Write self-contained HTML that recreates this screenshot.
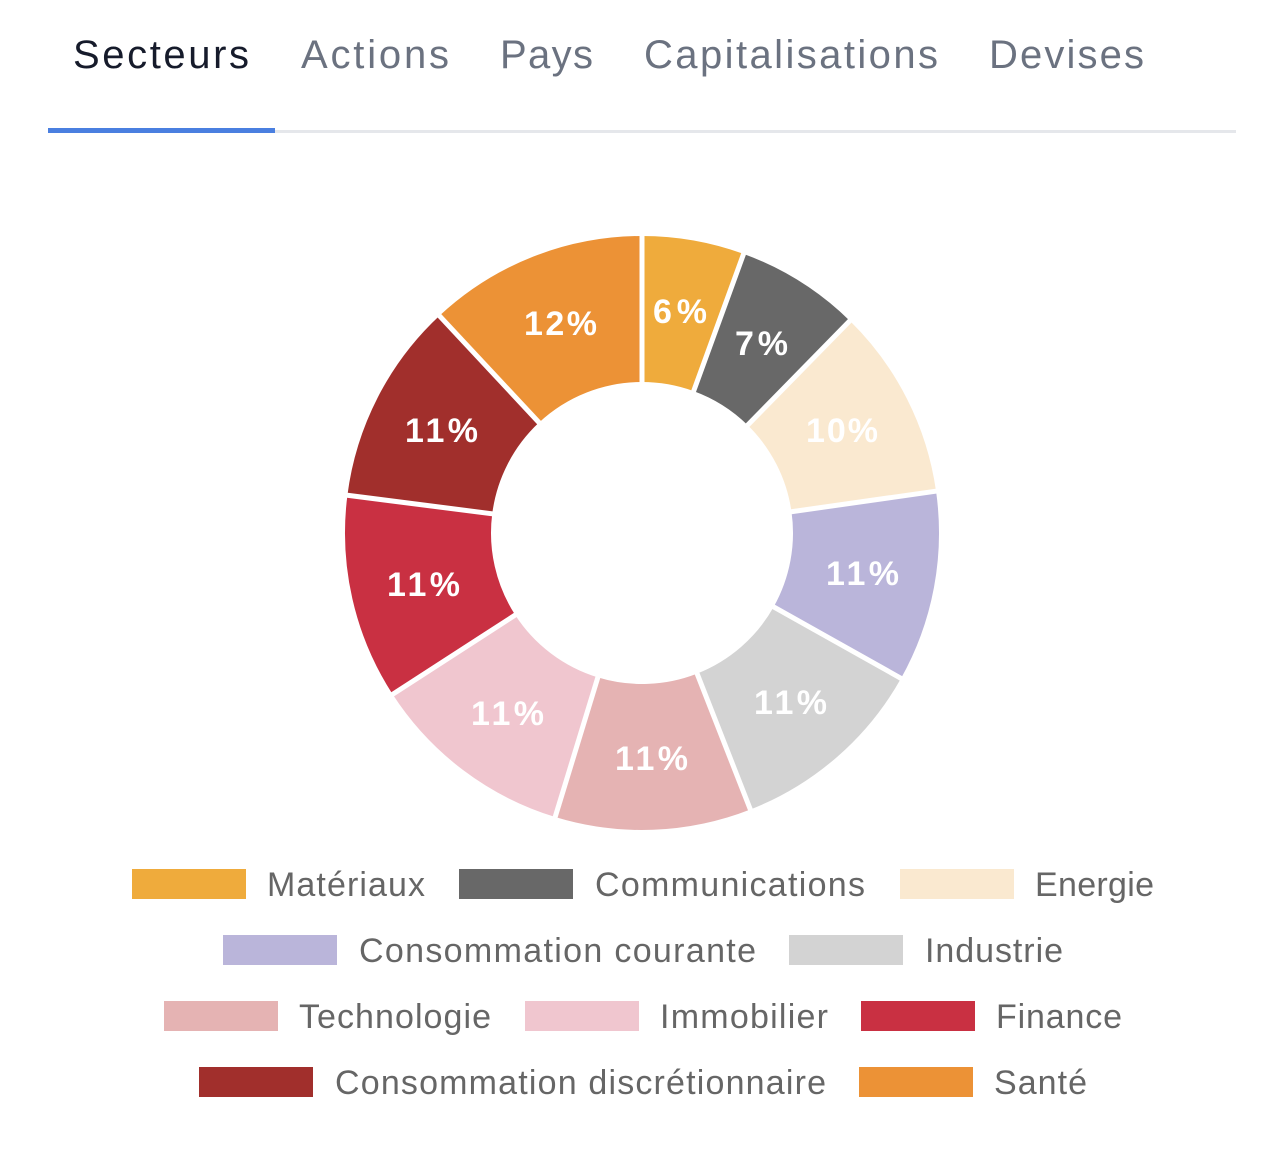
<!DOCTYPE html>
<html><head><meta charset="utf-8"><style>
html,body{margin:0;padding:0;background:#fff;width:1284px;height:1160px;overflow:hidden}
svg{display:block}
</style></head><body>
<svg width="1284" height="1160" viewBox="0 0 1284 1160" xmlns="http://www.w3.org/2000/svg" font-family="Liberation Sans, Arial, sans-serif">
<g font-size="40" fill="#6b7280" lengthAdjust="spacingAndGlyphs">
<text x="73" y="68" fill="#161b2b" textLength="176">Secteurs</text>
<text x="301" y="68" textLength="148">Actions</text>
<text x="500" y="68" textLength="93">Pays</text>
<text x="644" y="68" textLength="294">Capitalisations</text>
<text x="989" y="68" textLength="155">Devises</text>
</g>
<rect x="48" y="130" width="1188" height="3" fill="#e5e7eb"/>
<rect x="48" y="128" width="227" height="5" fill="#4a7fe0"/>
<g fill="none" stroke-width="146">
<circle cx="642" cy="533" r="224" stroke="#EFAB3C" stroke-dasharray="78.2 2000" transform="rotate(-90 642 533)"/>
<circle cx="642" cy="533" r="224" stroke="#686868" stroke-dasharray="95.4 2000" transform="rotate(-70 642 533)"/>
<circle cx="642" cy="533" r="224" stroke="#FAE9D0" stroke-dasharray="146.6 2000" transform="rotate(-45.6 642 533)"/>
<circle cx="642" cy="533" r="224" stroke="#BAB5DA" stroke-dasharray="146.2 2000" transform="rotate(-8.1 642 533)"/>
<circle cx="642" cy="533" r="224" stroke="#D3D3D3" stroke-dasharray="153.6 2000" transform="rotate(29.3 642 533)"/>
<circle cx="642" cy="533" r="224" stroke="#E5B3B3" stroke-dasharray="150.1 2000" transform="rotate(68.6 642 533)"/>
<circle cx="642" cy="533" r="224" stroke="#F0C6CF" stroke-dasharray="156.8 2000" transform="rotate(107 642 533)"/>
<circle cx="642" cy="533" r="224" stroke="#C93042" stroke-dasharray="157.2 2000" transform="rotate(147.1 642 533)"/>
<circle cx="642" cy="533" r="224" stroke="#A12F2C" stroke-dasharray="155.2 2000" transform="rotate(187.3 642 533)"/>
<circle cx="642" cy="533" r="224" stroke="#EC9236" stroke-dasharray="168.1 2000" transform="rotate(227 642 533)"/>
</g>
<g stroke="#fff" stroke-width="5">
<line x1="642" y1="385" x2="642" y2="230" transform="rotate(0 642 533)"/>
<line x1="642" y1="385" x2="642" y2="230" transform="rotate(20 642 533)"/>
<line x1="642" y1="385" x2="642" y2="230" transform="rotate(44.4 642 533)"/>
<line x1="642" y1="385" x2="642" y2="230" transform="rotate(81.9 642 533)"/>
<line x1="642" y1="385" x2="642" y2="230" transform="rotate(119.3 642 533)"/>
<line x1="642" y1="385" x2="642" y2="230" transform="rotate(158.6 642 533)"/>
<line x1="642" y1="385" x2="642" y2="230" transform="rotate(197 642 533)"/>
<line x1="642" y1="385" x2="642" y2="230" transform="rotate(237.1 642 533)"/>
<line x1="642" y1="385" x2="642" y2="230" transform="rotate(277.3 642 533)"/>
<line x1="642" y1="385" x2="642" y2="230" transform="rotate(317 642 533)"/>
</g>
<g font-size="34" font-weight="bold" fill="#fff" lengthAdjust="spacingAndGlyphs">
<text x="653" y="323" textLength="54">6%</text>
<text x="735" y="355" textLength="53">7%</text>
<text x="806" y="442" textLength="72">10%</text>
<text x="826" y="585" textLength="73">11%</text>
<text x="754" y="714" textLength="73">11%</text>
<text x="615" y="770" textLength="73">11%</text>
<text x="471" y="725" textLength="73">11%</text>
<text x="387" y="596" textLength="73">11%</text>
<text x="405" y="442" textLength="73">11%</text>
<text x="524" y="335" textLength="73">12%</text>
</g>
<g font-size="34" fill="#666" lengthAdjust="spacingAndGlyphs">
<rect x="132" y="869" width="114" height="30" fill="#EFAB3C"/><text x="267" y="896" textLength="158">Matériaux</text>
<rect x="459" y="869" width="114" height="30" fill="#686868"/><text x="595" y="896" textLength="270">Communications</text>
<rect x="900" y="869" width="114" height="30" fill="#FAE9D0"/><text x="1035" y="896" textLength="119">Energie</text>
<rect x="223" y="935" width="114" height="30" fill="#BAB5DA"/><text x="359" y="962" textLength="397">Consommation courante</text>
<rect x="789" y="935" width="114" height="30" fill="#D3D3D3"/><text x="925" y="962" textLength="138">Industrie</text>
<rect x="164" y="1001" width="114" height="30" fill="#E5B3B3"/><text x="299" y="1028" textLength="192">Technologie</text>
<rect x="525" y="1001" width="114" height="30" fill="#F0C6CF"/><text x="660" y="1028" textLength="168">Immobilier</text>
<rect x="861" y="1001" width="114" height="30" fill="#C93042"/><text x="996" y="1028" textLength="126">Finance</text>
<rect x="199" y="1067" width="114" height="30" fill="#A12F2C"/><text x="335" y="1094" textLength="491">Consommation discrétionnaire</text>
<rect x="859" y="1067" width="114" height="30" fill="#EC9236"/><text x="994" y="1094" textLength="93">Santé</text>
</g>
</svg>
</body></html>
